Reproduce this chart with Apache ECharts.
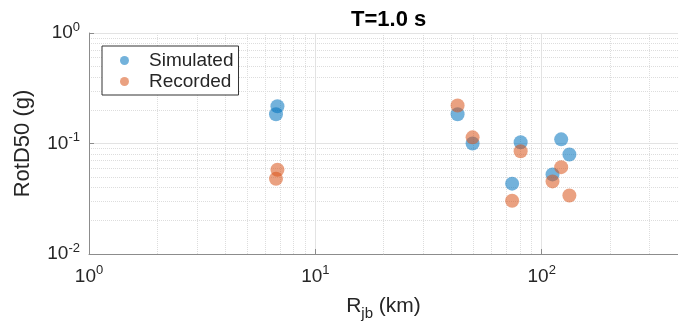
<!DOCTYPE html>
<html>
<head>
<meta charset="utf-8">
<script src="https://cdn.jsdelivr.net/npm/echarts@6/dist/echarts.min.js"></script>
<style>
  html, body { margin: 0; padding: 0; background: #fff; }
  #viz { width: 678px; height: 326px; }
</style>
</head>
<body>
<div id="viz"></div>
<script>
// distances (km) and RotD50 values (g)
var rjb       = [6.8, 6.7, 42.5, 49.5, 80.7, 74.0, 121.9, 132.5, 111.6];
var simulated = [0.217, 0.184, 0.184, 0.100, 0.1025, 0.0433, 0.109, 0.0794, 0.0525];
var recorded  = [0.0578, 0.048, 0.221, 0.1137, 0.085, 0.0303, 0.0611, 0.0338, 0.0454];

// minor grid positions of the log axes
var minorX = [2, 3, 4, 5, 6, 7, 8, 9, 20, 30, 40, 50, 60, 70, 80, 90, 200, 300];
var minorY = [0.02, 0.03, 0.04, 0.05, 0.06, 0.07, 0.08, 0.09, 0.2, 0.3, 0.4, 0.5, 0.6, 0.7, 0.8, 0.9];

var FONT = 'Liberation Sans';
var TXT = '#262626';

function pairs(xs, ys){
  var out = [];
  for (var i = 0; i < xs.length; i++) out.push([xs[i], ys[i]]);
  return out;
}

// 10^n labels, only on whole decades
function powLabel(v){
  var e = Math.log10(v);
  var r = Math.round(e);
  if (Math.abs(e - r) > 1e-6) return '';
  return '{b|10}{s|' + r + '}';
}

var labelRich = {
  b: { fontSize: 19, fontFamily: FONT, color: TXT },
  s: { fontSize: 13, fontFamily: FONT, color: TXT, padding: [0, 0, 12, 0] }
};

function minorLines(){
  var d = [];
  for (var i in minorX) d.push({ xAxis: minorX[i] });
  for (var j in minorY) d.push({ yAxis: minorY[j] });
  return d;
}

var myChart = echarts.init(document.getElementById('viz'), null, { renderer: 'canvas' });

var option = {
  animation: false,
  backgroundColor: '#fff',
  title: {
    text: 'T=1.0 s',
    left: 346,
    top: 4,
    textStyle: { fontFamily: FONT, fontSize: 22, fontWeight: 'bold', color: '#000' }
  },
  legend: {
    orient: 'vertical',
    left: 102,
    top: 46,
    z: 10,
    padding: [5, 5, 4, 18],
    itemGap: 2,
    itemWidth: 9,
    itemHeight: 9,
    borderColor: '#333',
    borderWidth: 1,
    backgroundColor: '#fff',
    icon: 'circle',
    textStyle: { fontFamily: FONT, fontSize: 19, color: TXT, padding: [0, 0, 0, 15] },
    data: ['Simulated', 'Recorded']
  },
  grid: { left: 89, top: 33, right: -7, bottom: 70, containLabel: false },
  xAxis: {
    type: 'log',
    logBase: 10,
    min: 1,
    max: 400,
    name: '{a|R}{sub|jb}{a| (km)}',
    nameLocation: 'middle',
    nameGap: 37,
    nameTextStyle: {
      rich: {
        a: { fontSize: 21, fontFamily: FONT, color: TXT },
        sub: { fontSize: 15, fontFamily: FONT, color: TXT, padding: [15, 0, 0, 0] }
      }
    },
    axisLine: { show: true, lineStyle: { color: '#8c8c8c', width: 1 } },
    axisTick: { show: true, inside: true, length: 5, lineStyle: { color: '#8c8c8c' } },
    axisLabel: { margin: 10, formatter: powLabel, rich: labelRich, showMaxLabel: false },
    splitLine: { show: true, lineStyle: { color: '#e3e3e3', width: 1 } }
  },
  yAxis: {
    type: 'log',
    logBase: 10,
    min: 0.01,
    max: 1,
    name: 'RotD50 (g)',
    nameLocation: 'middle',
    nameGap: 55,
    nameTextStyle: { fontSize: 22, fontFamily: FONT, color: TXT },
    axisLine: { show: true, lineStyle: { color: '#8c8c8c', width: 1 } },
    axisTick: { show: true, inside: true, length: 5, lineStyle: { color: '#8c8c8c' } },
    axisLabel: { margin: 9, formatter: powLabel, rich: labelRich },
    splitLine: { show: true, lineStyle: { color: '#e3e3e3', width: 1 } }
  },
  series: [{
    // carries only the dotted minor grid, kept under the points
    name: 'minor',
    type: 'line',
    data: [],
    z: 0,
    markLine: {
      z: 0,
      silent: true,
      symbol: 'none',
      label: { show: false },
      lineStyle: { color: '#dddddd', type: 'dotted', width: 1 },
      data: minorLines()
    }
  }, {
    name: 'Simulated',
    type: 'scatter',
    z: 3,
    symbolSize: 14,
    itemStyle: { color: '#0072BD', opacity: 0.55 },
    data: pairs(rjb, simulated)
  }, {
    name: 'Recorded',
    type: 'scatter',
    z: 3,
    symbolSize: 14,
    itemStyle: { color: '#D95319', opacity: 0.55 },
    data: pairs(rjb, recorded)
  }]
};

myChart.setOption(option);
</script>
</body>
</html>
